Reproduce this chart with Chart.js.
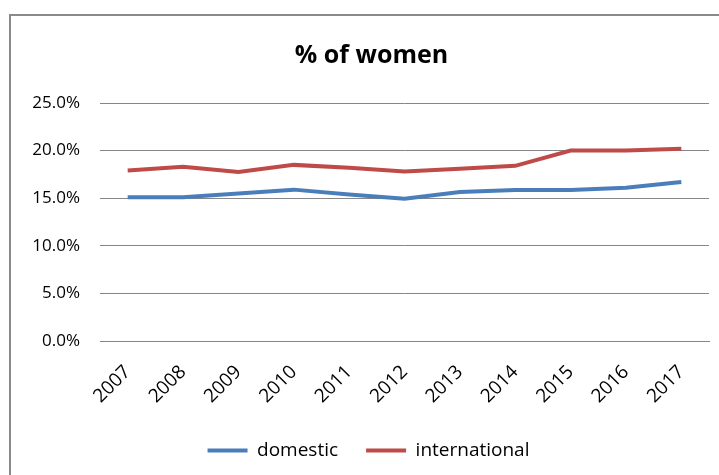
<!DOCTYPE html>
<html>
<head>
<meta charset="utf-8">
<script src="https://cdn.jsdelivr.net/npm/chart.js@4.4.1/dist/chart.umd.min.js"></script>
<style>
  html, body { margin: 0; padding: 0; background: #fff; }
  #frame {
    position: absolute; left: 9px; top: 14px; width: 720px; height: 470px;
    border-top: 2px solid #8a8a8a; border-left: 2px solid #8a8a8a;
  }
  #wrap { position: absolute; left: 0; top: 0; width: 719px; height: 475px; }
</style>
</head>
<body>
<div id="frame"></div>
<div id="wrap"><canvas id="myChart"></canvas></div>
<script>
const $ = document.querySelector.bind(document)
const ctx = $('#myChart')

// years on the category axis
const years = ['2007', '2008', '2009', '2010', '2011', '2012', '2013', '2014', '2015', '2016', '2017']
// share of women, in %
const domestic = [15.1, 15.1, 15.5, 15.9, 15.4, 14.95, 15.65, 15.85, 15.85, 16.1, 16.7]
const international = [17.9, 18.3, 17.75, 18.5, 18.2, 17.8, 18.1, 18.4, 20.0, 20.0, 20.2]
const yTicks = [0, 5, 10, 15, 20, 25]

const fontName = "'Open Sans', sans-serif"

// title and legend sit a bit right of the canvas centre in the original
const shiftBoxes = {
  id: 'shiftBoxes',
  afterLayout(chart) {
    chart.titleBlock.left += 17
    chart.titleBlock.right += 17
    chart.legend.left += 14
    chart.legend.right += 14
  }
}

new Chart(ctx, {
  type: 'line',
  data: {
    labels: years,
    datasets: [{
      label: 'domestic',
      data: domestic,
      borderColor: '#4a7ebb',
      backgroundColor: '#4a7ebb',
      borderWidth: 4,
      pointRadius: 0,
      tension: 0
    }, {
      label: 'international',
      data: international,
      borderColor: '#be4b48',
      backgroundColor: '#be4b48',
      borderWidth: 4,
      pointRadius: 0,
      tension: 0
    }]
  },
  options: {
    responsive: true,
    maintainAspectRatio: false,
    animation: false,
    layout: { padding: { left: 0, right: 10, top: 0, bottom: 5 } },
    plugins: {
      title: {
        display: true,
        text: '% of women',
        color: '#000',
        font: { family: fontName, size: 25, weight: 'bold' },
        padding: { top: 41, bottom: 32 }
      },
      legend: {
        position: 'bottom',
        labels: {
          color: '#222',
          font: { family: fontName, size: 19 },
          boxWidth: 40,
          boxHeight: 4,
          padding: 28,
          generateLabels: (chart) => chart.data.datasets.map((ds, i) => ({
            text: ds.label,
            fillStyle: ds.borderColor,
            strokeStyle: ds.borderColor,
            lineWidth: 0,
            datasetIndex: i
          }))
        }
      },
      tooltip: { enabled: false }
    },
    scales: {
      x: {
        offset: true,
        afterFit: (scale) => { scale.height = 72 },
        grid: { display: false, drawTicks: false },
        border: { display: true, color: '#868686', width: 1 },
        ticks: {
          color: '#000',
          font: { family: fontName, size: 19 },
          minRotation: 45,
          maxRotation: 45,
          padding: 20
        }
      },
      y: {
        min: 0,
        max: 25,
        afterFit: (scale) => { scale.width = 100 },
        afterBuildTicks: (scale) => { scale.ticks = yTicks.map(v => ({ value: v })) },
        grid: { color: '#868686', lineWidth: 1, drawTicks: false },
        border: { display: false },
        ticks: {
          color: '#000',
          font: { family: fontName, size: 17 },
          padding: 20,
          callback: (v) => v.toFixed(1) + '%'
        }
      }
    }
  },
  plugins: [shiftBoxes]
})
</script>
</body>
</html>
